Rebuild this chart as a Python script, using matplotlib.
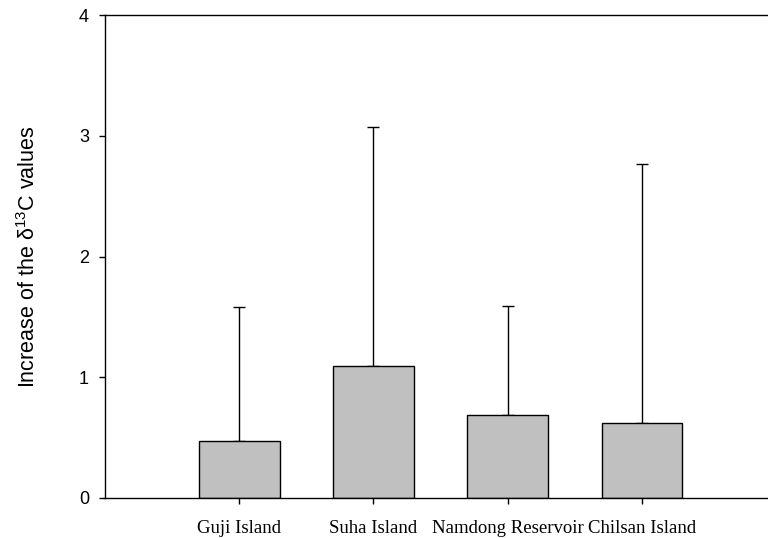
import matplotlib
matplotlib.use("Agg")
import matplotlib.pyplot as plt

plt.rcParams['font.family'] = ['Liberation Sans', 'DejaVu Sans']
plt.rcParams['mathtext.fontset'] = 'custom'
plt.rcParams['mathtext.rm'] = 'Liberation Sans'
plt.rcParams['mathtext.it'] = 'Liberation Sans:italic'
plt.rcParams['mathtext.default'] = 'regular'

sites = ["Guji Island", "Suha Island", "Namdong Reservoir", "Chilsan Island"]
increase = [0.47, 1.09, 0.69, 0.62]
upper_err = [1.11, 1.98, 0.90, 2.15]
y_ticks = [0, 1, 2, 3, 4]

fig = plt.figure(figsize=(7.68, 5.38), dpi=100)
ax = fig.add_axes([105 / 768, 40 / 538, 1 - 105 / 768 + 0.002, 483 / 538])

pos = [1, 2, 3, 4]
ax.bar(pos, increase, width=0.6, color="#c0c0c0", edgecolor="black",
       linewidth=1.0, zorder=2)
ax.errorbar(pos, increase, yerr=[[0] * len(pos), upper_err], fmt="none",
            ecolor="black", elinewidth=1.0, capsize=4.5, capthick=1.0, zorder=1)

ax.set_xlim(0.0, 4.95)
ax.set_ylim(0, 4)
ax.set_yticks(y_ticks)
ax.set_yticklabels([str(t) for t in y_ticks], fontsize=13)
ax.set_xticks(pos)
ax.set_xticklabels(sites, fontfamily="Liberation Serif", fontsize=13.5)
ax.tick_params(axis="y", direction="out", length=4.5, width=1.0, pad=7)
ax.tick_params(axis="x", direction="out", length=4.5, width=1.0, pad=11)

ax.spines["right"].set_visible(False)
for s in ("left", "top", "bottom"):
    ax.spines[s].set_linewidth(1.0)

ax.set_ylabel("Increase of the δ$^{13}$C values", fontsize=15.5, labelpad=28)

fig.savefig("out.png", dpi=100)
